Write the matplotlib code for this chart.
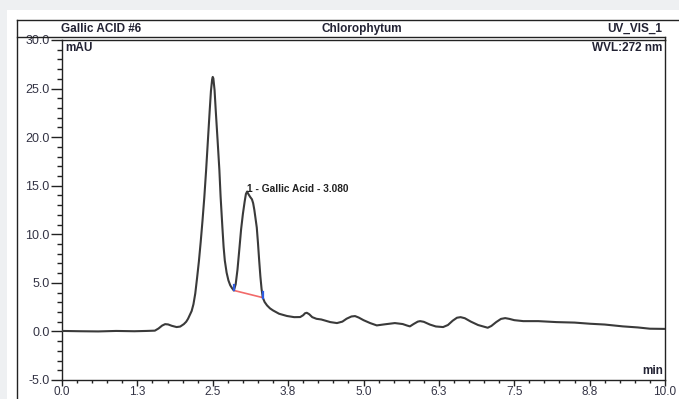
import matplotlib
matplotlib.use('Agg')
import matplotlib.pyplot as plt
from matplotlib.lines import Line2D
from matplotlib.patches import Rectangle
from matplotlib.ticker import MultipleLocator, FixedLocator, FormatStrFormatter

plt.rcParams['font.family'] = ['Liberation Sans', 'DejaVu Sans']

# chromatogram: retention time (min) and signal (mAU)
time_min = [0.0, 0.3, 0.6, 0.9, 1.2, 1.4, 1.54, 1.60, 1.66, 1.71, 1.76, 1.82, 1.90, 1.96,
            2.02, 2.06, 2.09, 2.12, 2.15, 2.18, 2.21, 2.24, 2.27, 2.30, 2.33, 2.36, 2.39,
            2.42, 2.45, 2.47, 2.49, 2.50, 2.51, 2.53, 2.55, 2.58, 2.61, 2.63, 2.66, 2.68,
            2.70, 2.73, 2.76, 2.79, 2.82, 2.85, 2.88, 2.91, 2.94, 2.97, 3.00, 3.03, 3.05,
            3.07, 3.09, 3.12, 3.15, 3.17, 3.19, 3.21, 3.23, 3.25, 3.27, 3.29, 3.31, 3.33,
            3.36, 3.40, 3.45, 3.50, 3.60, 3.73, 3.85, 3.95, 4.00, 4.03, 4.06, 4.10, 4.15,
            4.22, 4.30, 4.45, 4.56, 4.65, 4.72, 4.80, 4.86, 4.92, 5.00, 5.11, 5.22, 5.35,
            5.52, 5.65, 5.72, 5.77, 5.83, 5.90, 5.94, 6.00, 6.10, 6.20, 6.32, 6.40, 6.48,
            6.55, 6.61, 6.68, 6.78, 6.90, 7.06, 7.12, 7.20, 7.28, 7.35, 7.42, 7.50, 7.65,
            7.90, 8.20, 8.50, 8.76, 9.00, 9.30, 9.55, 9.75, 10.0]
signal_mau = [0.05, 0.02, 0.0, 0.05, 0.02, 0.05, 0.08, 0.30, 0.60, 0.75, 0.72, 0.58, 0.45, 0.50,
              0.75, 1.00, 1.30, 1.70, 2.10, 2.80, 3.90, 5.50, 7.20, 9.20, 11.4, 13.8, 16.6,
              19.7, 22.8, 24.75, 25.95, 26.2, 26.05, 24.85, 22.7, 19.7, 16.6, 13.9, 10.7, 8.70,
              7.30, 6.05, 5.25, 4.75, 4.45, 4.22, 4.85, 6.35, 8.40, 10.5, 12.1, 13.4, 14.15,
              14.4, 14.15, 13.85, 13.6, 13.2, 12.5, 11.6, 10.7, 9.10, 7.30, 5.65, 4.35, 3.48,
              3.03, 2.68, 2.37, 2.16, 1.82, 1.59, 1.47, 1.48, 1.67, 1.87, 1.92, 1.77, 1.47,
              1.30, 1.23, 0.96, 0.86, 1.01, 1.31, 1.54, 1.58, 1.43, 1.16, 0.86, 0.62, 0.73,
              0.86, 0.76, 0.61, 0.52, 0.76, 1.01, 1.06, 0.99, 0.71, 0.51, 0.45, 0.66, 1.11,
              1.41, 1.47, 1.36, 1.01, 0.66, 0.38, 0.56, 0.96, 1.29, 1.37, 1.29, 1.16, 1.06,
              1.06, 0.96, 0.91, 0.79, 0.71, 0.52, 0.41, 0.28, 0.26]

# integration baseline for peak 1
peak_start = (2.85, 4.22)
peak_end = (3.33, 3.48)
peak_label = '1 - Gallic Acid - 3.080'
peak_label_pos = (3.07, 14.4)

header_left = 'Gallic ACID #6'
header_mid = 'Chlorophytum'
header_right = 'UV_VIS_1'
x_ticks = [0.0, 1.25, 2.5, 3.75, 5.0, 6.25, 7.5, 8.75, 10.0]
x_tick_labels = ['0.0', '1.3', '2.5', '3.8', '5.0', '6.3', '7.5', '8.8', '10.0']

W, H = 679, 399
fig = plt.figure(figsize=(W / 100, H / 100), dpi=100)
fig.patch.set_facecolor('#eef0f2')


def fx(px):
    return px / W


def fy(py):
    return 1 - py / H


# white sheet and outer frame
fig.patches.append(Rectangle((fx(7), 0), 1 - fx(7), fy(10), transform=fig.transFigure,
                             facecolor='white', edgecolor='none', zorder=-5))
frame_kw = dict(transform=fig.transFigure, color='#222222', lw=1.0)
fig.lines.append(Line2D([fx(17), fx(17)], [0, fy(20)], **frame_kw))
fig.lines.append(Line2D([fx(17), 1], [fy(20), fy(20)], **frame_kw))
fig.lines.append(Line2D([fx(17), fx(665)], [fy(37), fy(37)], **frame_kw))
fig.lines.append(Line2D([fx(665), fx(665)], [fy(37), fy(40)], **frame_kw))

txt = '#222233'
hkw = dict(va='center', fontsize=8.5, fontweight='bold', color=txt)
fig.text(fx(61), fy(29), header_left, ha='left', **hkw)
fig.text(fx(362), fy(29), header_mid, ha='center', **hkw)
fig.text(fx(662), fy(29), header_right, ha='right', **hkw)

ax = fig.add_axes([fx(62), fy(380), fx(665) - fx(62), fy(40) - fy(380)])
ax.set_facecolor('none')
ax.plot(time_min, signal_mau, color='#3a3a3a', lw=1.5, solid_joinstyle='round', zorder=3)
ax.plot([peak_start[0], peak_end[0]], [peak_start[1], peak_end[1]], color='#f26a6a', lw=1.2, zorder=2)
for px_, py_ in (peak_start, peak_end):
    ax.plot([px_, px_], [py_, py_ + 0.6], color='#2f5be0', lw=1.6, zorder=4)
ax.text(peak_label_pos[0], peak_label_pos[1], peak_label, fontsize=7.3, fontweight='bold',
        color='#222222', ha='left', va='baseline')

ax.set_xlim(0, 10)
ax.set_ylim(-5, 30)
ax.xaxis.set_major_locator(FixedLocator(x_ticks))
ax.set_xticklabels(x_tick_labels)
ax.xaxis.set_minor_locator(MultipleLocator(0.25))
ax.yaxis.set_major_locator(MultipleLocator(5))
ax.yaxis.set_minor_locator(MultipleLocator(1))
ax.yaxis.set_major_formatter(FormatStrFormatter('%.1f'))
ax.tick_params(which='both', width=1, color='#222222', labelcolor='#333344')
ax.tick_params(axis='y', which='major', length=8, pad=1, labelsize=9)
ax.tick_params(axis='y', which='minor', length=3.5)
ax.tick_params(axis='x', which='major', length=4, pad=0.5, labelsize=8.5)
ax.tick_params(axis='x', which='minor', length=2.5)
for s in ax.spines.values():
    s.set_color('#222222')
    s.set_linewidth(1.0)

tkw = dict(fontsize=8.5, fontweight='bold', color=txt)
ax.text(0.005, 0.995, 'mAU', transform=ax.transAxes, ha='left', va='top', **tkw)
ax.text(0.995, 0.995, 'WVL:272 nm', transform=ax.transAxes, ha='right', va='top', **tkw)
ax.text(0.997, 0.01, 'min', transform=ax.transAxes, ha='right', va='bottom', **tkw)

fig.savefig('out.png', dpi=100, facecolor=fig.get_facecolor())
